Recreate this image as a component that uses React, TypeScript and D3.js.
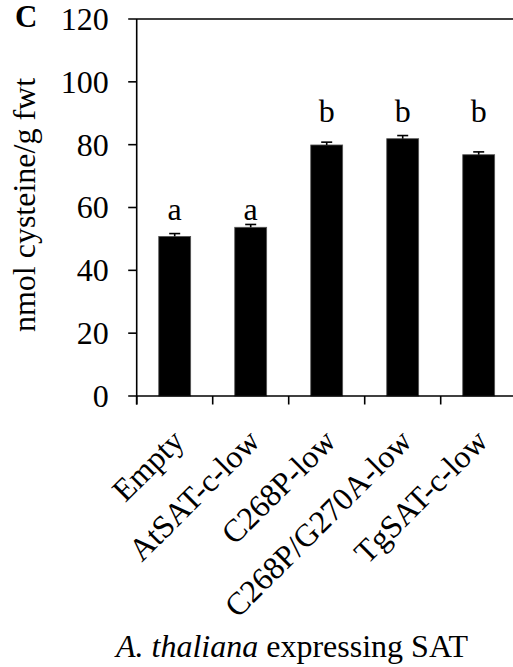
import React from "react";
import * as d3 from "d3";

const categories = ["Empty", "AtSAT-c-low", "C268P-low", "C268P/G270A-low", "TgSAT-c-low"];
const values = [50.8, 53.7, 79.9, 81.9, 76.8];
const errors = [0.9, 0.9, 0.9, 1.0, 0.9];
const letters = ["a", "a", "b", "b", "b"];
const letterLevels = [56, 56, 87.1, 87.1, 87.1];
const yTicks = [0, 20, 40, 60, 80, 100, 120];

const W = 513;
const H = 667;
const FONT = "Liberation Serif";
const FS = 32;

export default function App() {
  const x0 = 136.7;
  const step = 76;
  const x = d3.scaleBand<string>().domain(categories).range([x0, x0 + step * categories.length]).padding(0);
  const y = d3.scaleLinear().domain([0, 120]).range([396, 19]);
  const barW = x.bandwidth() * 0.42;
  const tickLen = 8.5;
  const sw = 1.6;
  const ts = { fontFamily: FONT, fontSize: FS } as React.CSSProperties;

  return (
    <svg width={W} height={H} style={{ position: "absolute", left: 0, top: 0 }}>
      <rect width={W} height={H} fill="#fff" />
      <text x={15} y={26.5} style={{ ...ts, fontSize: 31, fontWeight: "bold" }}>C</text>

      {categories.map((c, i) => {
        const cx = (x(c) as number) + x.bandwidth() / 2;
        return (
          <g key={c}>
            <rect x={cx - barW / 2} y={y(values[i])} width={barW} height={y(0) - y(values[i])} fill="#000" stroke="#555" strokeWidth={0.8} />
            <line x1={cx} x2={cx} y1={y(values[i])} y2={y(values[i] + errors[i])} stroke="#000" strokeWidth={sw} />
            <line x1={cx - 5.5} x2={cx + 5.5} y1={y(values[i] + errors[i])} y2={y(values[i] + errors[i])} stroke="#000" strokeWidth={sw} />
            <text x={cx} y={y(letterLevels[i])} style={ts} textAnchor="middle">{letters[i]}</text>
          </g>
        );
      })}

      <line x1={x0} x2={x0} y1={y(120)} y2={y(0) + tickLen} stroke="#000" strokeWidth={sw} />
      {yTicks.map((t) => (
        <g key={t}>
          <line x1={x0 - tickLen} x2={t === 120 || t === 0 ? W + 10 : x0} y1={y(t)} y2={y(t)} stroke="#000" strokeWidth={sw} />
          <text x={x0 - 28} y={y(t)} dy="0.34em" style={ts} textAnchor="end">{t}</text>
        </g>
      ))}

      {categories.map((c) => (
        <line key={c} x1={x(c) as number} x2={x(c) as number} y1={y(0)} y2={y(0) + tickLen} stroke="#000" strokeWidth={sw} />
      ))}

      {categories.map((c) => {
        const cx = (x(c) as number) + x.bandwidth() / 2;
        return (
          <text key={c} transform={`translate(${cx + 11},${y(0) + 47}) rotate(-45)`} style={ts} textAnchor="end">{c}</text>
        );
      })}

      <text transform={`translate(35,205) rotate(-90)`} style={ts} textAnchor="middle">nmol cysteine/g fwt</text>
      <text x={292} y={657} style={ts} textAnchor="middle">
        <tspan fontStyle="italic">A. thaliana</tspan> expressing SAT
      </text>
    </svg>
  );
}
